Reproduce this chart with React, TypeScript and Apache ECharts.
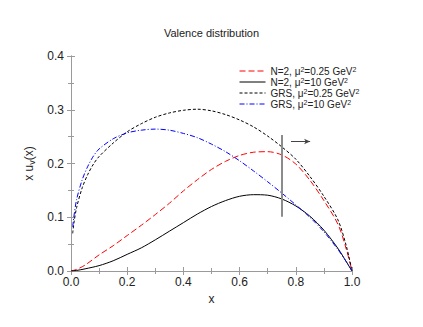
import React, { useEffect, useRef } from "react";
import * as echarts from "echarts";

const titleText = "Valence distribution";
const xName = "x";

const xTicks = { min: 0, max: 1, interval: 0.2 };
const yTicks = { min: 0, max: 0.4, interval: 0.1 };

// N=2 curves
const xN2 = [0, 0.02, 0.05, 0.1, 0.15, 0.2, 0.25, 0.3, 0.35, 0.4, 0.45, 0.5, 0.55, 0.6, 0.65, 0.7, 0.75, 0.8, 0.85, 0.9, 0.95, 0.98, 1.0];
const yN2Low = [0, 0.003, 0.011, 0.030, 0.047, 0.066, 0.085, 0.105, 0.126, 0.149, 0.170, 0.189, 0.204, 0.215, 0.221, 0.222, 0.216, 0.199, 0.169, 0.131, 0.087, 0.040, 0];
const yN2High = [0, 0.001, 0.004, 0.010, 0.019, 0.031, 0.043, 0.058, 0.074, 0.090, 0.106, 0.120, 0.131, 0.139, 0.142, 0.141, 0.134, 0.121, 0.102, 0.076, 0.042, 0.017, 0];

// GRS curves
const xGRS = [0.006, 0.01, 0.02, 0.04, 0.06, 0.08, 0.1, 0.15, 0.2, 0.25, 0.3, 0.35, 0.4, 0.45, 0.5, 0.55, 0.6, 0.65, 0.7, 0.75, 0.8, 0.85, 0.9, 0.95, 0.98, 1.0];
const yGRSLow = [0.070, 0.088, 0.118, 0.155, 0.180, 0.199, 0.213, 0.238, 0.259, 0.274, 0.286, 0.294, 0.299, 0.301, 0.298, 0.291, 0.281, 0.268, 0.251, 0.231, 0.208, 0.176, 0.139, 0.095, 0.046, 0];
const yGRSHigh = [0.082, 0.100, 0.133, 0.170, 0.195, 0.214, 0.227, 0.246, 0.257, 0.262, 0.264, 0.262, 0.256, 0.248, 0.236, 0.222, 0.205, 0.186, 0.166, 0.145, 0.123, 0.100, 0.073, 0.040, 0.017, 0];

// marker line and arrow
const markerX = 0.75;
const markerY = [0.101, 0.253];
const arrowX = [0.783, 0.851];
const arrowY = 0.241;

const seriesNames = ["N2low", "N2high", "GRSlow", "GRShigh"];
const legendLabels: Record<string, string> = {
  N2low: "N=2, μ{sup|2}=0.25 GeV{sup|2}",
  N2high: "N=2, μ{sup|2}=10 GeV{sup|2}",
  GRSlow: "GRS, μ{sup|2}=0.25 GeV{sup|2}",
  GRShigh: "GRS, μ{sup|2}=10 GeV{sup|2}",
};

const FONT = "'Liberation Sans', Arial, Helvetica, sans-serif";
const FRAME = "#9a9a9a";

function zip(xs: number[], ys: number[]) {
  return xs.map((x, i) => [x, ys[i]]);
}

export default function App() {
  const ref = useRef<HTMLDivElement>(null);
  useEffect(() => {
    if (!ref.current) return;
    const chart = echarts.init(ref.current, undefined, { renderer: "svg" });
    const tickCommon = {
      axisLine: { show: true, lineStyle: { color: FRAME, width: 1 } },
      axisTick: { show: true, inside: true, length: 4, lineStyle: { color: FRAME } },
      minorTick: { show: true, splitNumber: 2, length: 3, lineStyle: { color: FRAME } },
      splitLine: { show: false },
    };
    const lineSeries = (name: string, data: number[][], color: string, type: any) => ({
      name,
      type: "line",
      data,
      showSymbol: false,
      symbol: "none",
      smooth: 0.3,
      xAxisIndex: 0,
      yAxisIndex: 0,
      lineStyle: { color, width: 1, type },
      itemStyle: { color },
    });
    chart.setOption({
      animation: false,
      title: {
        text: titleText,
        left: "center",
        top: 22,
        textStyle: { fontSize: 11, fontWeight: "normal", color: "#222", fontFamily: FONT },
      },
      grid: { left: 71, right: 71, top: 56, bottom: 56 },
      legend: {
        orient: "vertical",
        left: 234,
        top: 61,
        itemWidth: 26,
        itemHeight: 8,
        itemGap: 1,
        data: seriesNames,
        formatter: (n: string) => legendLabels[n],
        itemStyle: { opacity: 0 },
        lineStyle: { width: 1 },
        textStyle: {
          fontSize: 10,
          lineHeight: 10,
          color: "#222",
          fontFamily: FONT,
          rich: {
            sup: { fontSize: 7, lineHeight: 10, verticalAlign: "top", fontFamily: FONT, color: "#222" },
          },
        },
      },
      xAxis: [
        {
          type: "value",
          ...xTicks,
          name: xName,
          nameLocation: "middle",
          nameGap: 17,
          nameTextStyle: { fontSize: 12, color: "#222", fontFamily: FONT },
          axisLabel: { fontSize: 12, color: "#222", fontFamily: FONT, margin: 5, formatter: (v: number) => v.toFixed(1) },
          ...tickCommon,
        },
        {
          type: "value",
          position: "top",
          ...xTicks,
          axisLabel: { show: false },
          ...tickCommon,
        },
      ],
      yAxis: [
        {
          type: "value",
          ...yTicks,
          name: "x u{sub|v}(x)",
          nameLocation: "middle",
          nameRotate: 90,
          nameGap: 31,
          nameTextStyle: {
            fontSize: 12,
            lineHeight: 14,
            color: "#222",
            fontFamily: FONT,
            rich: { sub: { fontSize: 9, lineHeight: 14, verticalAlign: "bottom", color: "#222", fontFamily: FONT } },
          },
          axisLabel: { fontSize: 12, color: "#222", fontFamily: FONT, margin: 7, formatter: (v: number) => v.toFixed(1) },
          ...tickCommon,
        },
        {
          type: "value",
          position: "right",
          ...yTicks,
          axisLabel: { show: false },
          ...tickCommon,
        },
      ],
      series: [
        lineSeries("N2low", zip(xN2, yN2Low), "#ff0000", [6, 3]),
        lineSeries("N2high", zip(xN2, yN2High), "#000000", "solid"),
        lineSeries("GRSlow", zip(xGRS, yGRSLow), "#000000", [3, 2]),
        lineSeries("GRShigh", zip(xGRS, yGRSHigh), "#0000ff", [5, 2, 1, 2]),
        {
          name: "marker",
          type: "line",
          data: [],
          silent: true,
          markLine: {
            silent: true,
            symbol: "none",
            label: { show: false },
            data: [
              [
                { coord: [markerX, markerY[0]], lineStyle: { color: "#8c8c8c", width: 2, type: "solid" } },
                { coord: [markerX, markerY[1]] },
              ],
              [
                { coord: [arrowX[0], arrowY], symbol: "none", lineStyle: { color: "#444", width: 1, type: "solid" } },
                { coord: [arrowX[1], arrowY], symbol: "arrow", symbolSize: [4, 6] },
              ],
            ],
          },
        },
      ],
    });
    return () => chart.dispose();
  }, []);
  return <div ref={ref} style={{ position: "absolute", left: 0, top: 0, width: 423, height: 327 }} />;
}
